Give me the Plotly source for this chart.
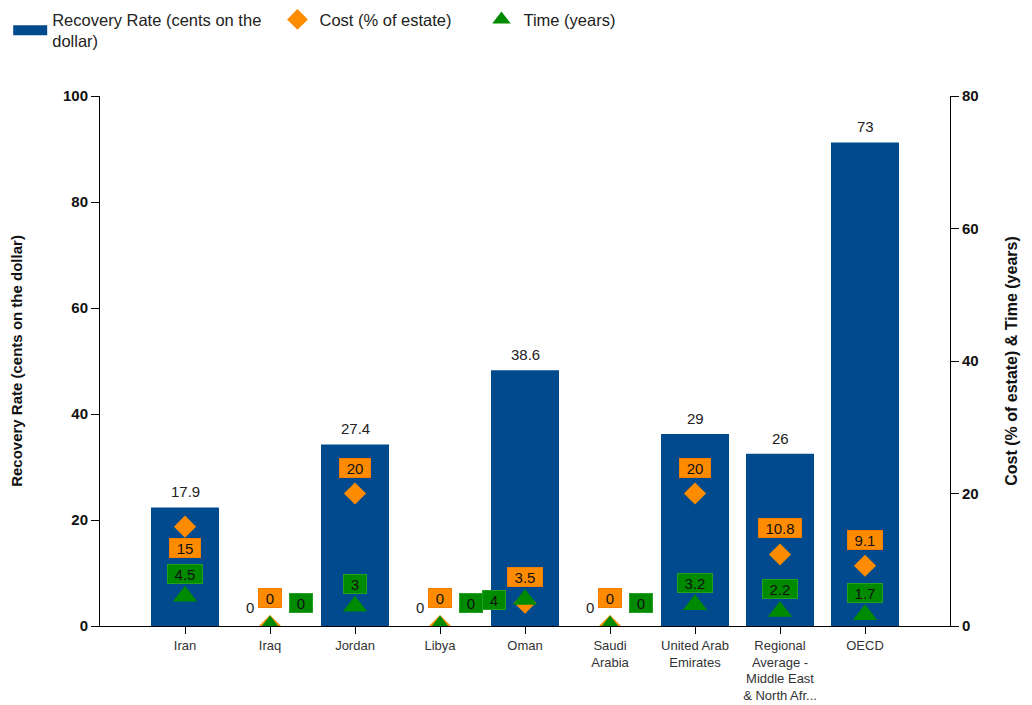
"""
Resolving insolvency - Middle East & North Africa
Recovery rate bars with cost and time markers, two y axes.
"""
import plotly.graph_objects as go


# ---- Data ----
countries = ['Iran', 'Iraq', 'Jordan', 'Libya', 'Oman', 'Saudi<br>Arabia',
             'United Arab<br>Emirates',
             'Regional<br>Average -<br>Middle East<br>& North Afr...', 'OECD']
recovery_rate = [17.9, 0, 27.4, 0, 38.6, 0, 29, 26, 73]
cost = [15, 0, 20, 0, 3.5, 0, 20, 10.8, 9.1]
time_years = [4.5, 0, 3, 0, 4, 0, 3.2, 2.2, 1.7]

BLUE = '#004a8d'
ORANGE = '#ff8c00'
GREEN = '#008a00'
FONT = 'Liberation Sans, Arial, sans-serif'
NB = '\u00a0'
BAR_NAME = 'Recovery Rate (cents on the' + NB * 2 + '<br>dollar)'


def label_offsets(values, default, zero, special=None):
    """Pixel offsets (xshift, yshift) for the value labels of one series."""
    out = []
    for i, v in enumerate(values):
        if special and i in special:
            out.append(special[i])
        elif v == 0:
            out.append(zero)
        else:
            out.append(default)
    return out


def box_label(i, v, shift, color, edge):
    """Boxed value label as an annotation on the right axis."""
    text = f'{v:g}'
    digits = sum(c.isdigit() for c in text)
    return dict(x=i, y=v, yref='y2', text=text, showarrow=False,
                xshift=shift[0], yshift=shift[1], bgcolor=color,
                bordercolor=edge, borderwidth=1, borderpad=2,
                width=10 + 8 * digits + 4 * text.count('.'), height=14,
                font=dict(size=15, color='#111'))


def main():
    idx = list(range(len(countries)))

    bars = go.Bar(
        x=idx, y=recovery_rate, yaxis='y2', name=BAR_NAME,
        legendgroup='rr', showlegend=False,
        marker=dict(color=BLUE, line=dict(width=0)),
        width=0.8, hoverinfo='y'
    )
    # wide rectangle swatch for the bar series in the legend
    bar_key = go.Scatter(
        x=[None], y=[None], yaxis='y2', mode='lines', name=BAR_NAME,
        legendgroup='rr', line=dict(color=BLUE, width=12)
    )
    cost_pts = go.Scatter(
        x=idx, y=cost, yaxis='y2', mode='markers',
        name='Cost (% of estate)' + NB * 5,
        marker=dict(symbol='diamond', size=17, color=ORANGE)
    )
    time_pts = go.Scatter(
        x=idx, y=time_years, yaxis='y2', mode='markers',
        name='Time (years)',
        marker=dict(symbol='triangle-up', size=21, color=GREEN)
    )
    # keeps the left (0-100) axis alive
    anchor = go.Scatter(x=[0], y=[0], mode='markers', showlegend=False,
                        marker=dict(opacity=0), hoverinfo='skip')

    fig = go.Figure(data=[anchor, bars, bar_key, cost_pts, time_pts])

    # ---- value labels ----
    ann = []
    for i, v in enumerate(recovery_rate):
        dx, dy = (-20, 8) if v == 0 else (0, 5)
        ann.append(dict(x=i, y=v, yref='y2', text=f'{v:g}', showarrow=False,
                        yanchor='bottom', xshift=dx, yshift=dy,
                        font=dict(size=15, color='#222')))

    cost_off = label_offsets(cost, (0, 26), (0, 28), {0: (0, -21)})
    for i, v in enumerate(cost):
        ann.append(box_label(i, v, cost_off[i], ORANGE, '#f07c00'))

    time_off = label_offsets(time_years, (0, 22), (31, 23), {4: (-31, 0)})
    for i, v in enumerate(time_years):
        ann.append(box_label(i, v, time_off[i], GREEN, '#22a022'))

    # the page body adds an 8px margin, so the figure is 8px smaller
    fig.update_layout(
        width=1024, height=697,
        paper_bgcolor='white', plot_bgcolor='white',
        font=dict(family=FONT, size=12, color='#222'),
        margin=dict(l=92, r=82, t=88, b=79, autoexpand=False),
        annotations=ann,
        showlegend=True,
        legend=dict(orientation='h', x=-0.108, y=1.177,
                    xanchor='left', yanchor='top',
                    font=dict(size=16.5, color='#222'), traceorder='normal',
                    itemwidth=34, tracegroupgap=0),
        xaxis=dict(
            tickmode='array', tickvals=idx, ticktext=countries,
            range=[-1, len(countries)], showline=True, linecolor='black',
            linewidth=1, ticks='outside', ticklen=7, tickcolor='black',
            tickfont=dict(size=13, color='#333'), showgrid=False,
            zeroline=False, fixedrange=True, automargin=False
        ),
        yaxis=dict(
            range=[0, 100], dtick=20, showline=True, linecolor='black',
            ticks='outside', ticklen=8, tickcolor='black', showgrid=False,
            zeroline=False, automargin=False,
            tickfont=dict(size=15, color='#111', weight='bold'),
            title=dict(text='<b>Recovery Rate (cents on the dollar)</b>',
                       font=dict(size=15, color='#111'), standoff=43)
        ),
        yaxis2=dict(
            range=[0, 80], dtick=20, overlaying='y', side='right',
            showline=True, linecolor='black', ticks='outside', ticklen=8,
            tickcolor='black', showgrid=False, zeroline=False,
            automargin=False,
            tickfont=dict(size=15, color='#111', weight='bold'),
            title=dict(text='<b>Cost (% of estate) & Time (years)</b>',
                       font=dict(size=16, color='#111'), standoff=28)
        ),
        bargap=0.2
    )
    fig.write_html('out.html')


if __name__ == '__main__':
    main()
